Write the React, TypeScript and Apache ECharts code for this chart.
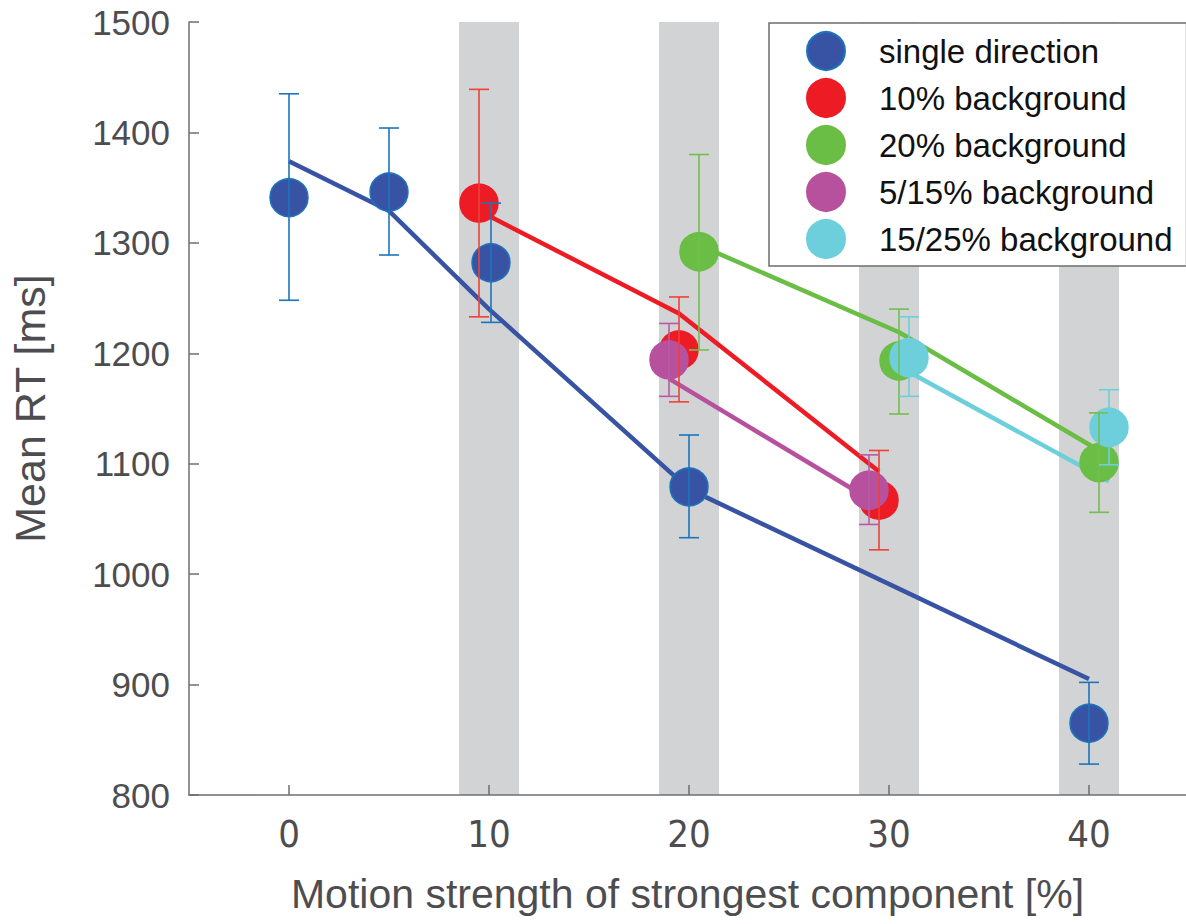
import React, { useEffect, useRef } from "react";
import * as echarts from "echarts";

// ---- data ----
const xTicks = [0, 10, 20, 30, 40];
const yTicks = [800, 900, 1000, 1100, 1200, 1300, 1400, 1500];
const bandCenters = [10, 20, 30, 40];

const seriesNames = [
  "single direction",
  "10% background",
  "20% background",
  "5/15% background",
  "15/25% background",
];

// single direction
const singleX = [0, 5, 10.1, 20, 40];
const singleY = [1341, 1346, 1282, 1079, 865];
const singleLo = [1248, 1289, 1228, 1033, 828];
const singleHi = [1435, 1404, 1336, 1126, 902];
const singleFitX = [0, 5, 10, 20, 40];
const singleFitY = [1374, 1329, 1240, 1077, 905];

// 10% background
const bg10X = [9.5, 19.5, 29.5];
const bg10Y = [1336, 1203, 1067];
const bg10Lo = [1233, 1156, 1022];
const bg10Hi = [1439, 1251, 1112];
const bg10FitX = [9.5, 19.5, 29.5];
const bg10FitY = [1329, 1236, 1093];

// 20% background
const bg20X = [20.5, 30.5, 40.5];
const bg20Y = [1292, 1193, 1101];
const bg20Lo = [1203, 1145, 1056];
const bg20Hi = [1380, 1240, 1146];
const bg20FitX = [20.5, 30.5, 40.5];
const bg20FitY = [1298, 1219, 1112];

// 5/15% background
const bg515X = [19, 29];
const bg515Y = [1194, 1076];
const bg515Lo = [1161, 1045];
const bg515Hi = [1227, 1108];
const bg515FitX = [19, 29];
const bg515FitY = [1177, 1068];

// 15/25% background
const bg1525X = [31, 41];
const bg1525Y = [1196, 1133];
const bg1525Lo = [1161, 1099];
const bg1525Hi = [1233, 1167];
const bg1525FitX = [31, 41];
const bg1525FitY = [1183, 1084];

const groups = [
  { x: singleX, y: singleY, lo: singleLo, hi: singleHi, fx: singleFitX, fy: singleFitY, fill: "#3953a4", edge: "#1c75bc", err: "#1c75bc" },
  { x: bg10X, y: bg10Y, lo: bg10Lo, hi: bg10Hi, fx: bg10FitX, fy: bg10FitY, fill: "#ed1c24", edge: "#ed1c24", err: "#ef4136" },
  { x: bg20X, y: bg20Y, lo: bg20Lo, hi: bg20Hi, fx: bg20FitX, fy: bg20FitY, fill: "#6abd45", edge: "#6abd45", err: "#72bf4f" },
  { x: bg515X, y: bg515Y, lo: bg515Lo, hi: bg515Hi, fx: bg515FitX, fy: bg515FitY, fill: "#b7519e", edge: "#b7519e", err: "#b95aa4" },
  { x: bg1525X, y: bg1525Y, lo: bg1525Lo, hi: bg1525Hi, fx: bg1525FitX, fy: bg1525FitY, fill: "#6dcfdc", edge: "#6dcfdc", err: "#6dcfdc" },
];

const AXIS_COLOR = "#6d6e71";
const TEXT_COLOR = "#4d4d4f";
const FONT = "'Liberation Sans', Arial, sans-serif";
const NARROW = "'Liberation Sans Narrow', 'DejaVu Sans Condensed', 'Liberation Sans', sans-serif";

export default function App() {
  const ref = useRef<HTMLDivElement>(null);

  useEffect(() => {
    if (!ref.current) return;
    const chart = echarts.init(ref.current, null, { renderer: "svg" });

    const series: any[] = [];

    // grey bands
    series.push({
      type: "custom",
      name: "bands",
      z: 0,
      silent: true,
      data: bandCenters.map((c) => [c - 1.5, c + 1.5]),
      renderItem: (params: any, api: any) => {
        const a = api.coord([api.value(0), 1500]);
        const b = api.coord([api.value(1), 800]);
        return {
          type: "rect",
          shape: { x: a[0], y: a[1], width: b[0] - a[0], height: b[1] - a[1] },
          style: { fill: "#d1d3d4" },
        };
      },
    });

    groups.forEach((g, i) => {
      const name = seriesNames[i];
      // fit line
      series.push({
        type: "line",
        name: name + " fit",
        z: 2,
        showSymbol: false,
        symbol: "none",
        silent: true,
        data: g.fx.map((x, k) => [x, g.fy[k]]),
        lineStyle: { color: g.fill, width: 4.5 },
      });
      // points
      series.push({
        type: "scatter",
        name,
        z: 3,
        symbol: "circle",
        symbolSize: 38,
        data: g.x.map((x, k) => [x, g.y[k]]),
        itemStyle: { color: g.fill, borderColor: g.edge, borderWidth: 1.5, opacity: 1 },
      });
      // error bars
      series.push({
        type: "custom",
        name: name + " error",
        z: 4,
        silent: true,
        data: g.x.map((x, k) => [x, g.lo[k], g.hi[k]]),
        renderItem: (params: any, api: any) => {
          const x = api.value(0);
          const top = api.coord([x, api.value(2)]);
          const bot = api.coord([x, api.value(1)]);
          const hw = 10;
          const st = { stroke: g.err, lineWidth: 1.6 };
          return {
            type: "group",
            children: [
              { type: "line", shape: { x1: top[0], y1: top[1], x2: bot[0], y2: bot[1] }, style: st },
              { type: "line", shape: { x1: top[0] - hw, y1: top[1], x2: top[0] + hw, y2: top[1] }, style: st },
              { type: "line", shape: { x1: bot[0] - hw, y1: bot[1], x2: bot[0] + hw, y2: bot[1] }, style: st },
            ],
          };
        },
      });
    });

    chart.setOption({
      animation: false,
      backgroundColor: "#ffffff",
      grid: { left: 188, right: 0, top: 22, bottom: 129, containLabel: false },
      legend: {
        data: seriesNames,
        orient: "vertical",
        left: 769,
        top: 23,
        padding: [8, 14, 7, 37],
        itemWidth: 38,
        itemHeight: 38,
        itemGap: 7,
        icon: "circle",
        backgroundColor: "#ffffff",
        borderColor: "#6d6e71",
        borderWidth: 1.5,
        borderRadius: 0,
        z: 10,
        textStyle: {
          fontSize: 33,
          color: "#111111",
          fontFamily: FONT,
          padding: [0, 0, 0, 29],
        },
      },
      xAxis: {
        type: "value",
        min: -5,
        max: 44.85,
        name: "Motion strength of strongest component [%]",
        nameLocation: "middle",
        nameGap: 78,
        nameTextStyle: { fontSize: 41, color: TEXT_COLOR, fontFamily: FONT },
        splitLine: { show: false },
        axisLine: { show: true, onZero: false, lineStyle: { color: AXIS_COLOR, width: 1.5 } },
        axisTick: { show: true, inside: true, length: 10, customValues: xTicks, lineStyle: { color: AXIS_COLOR, width: 1.5 } },
        axisLabel: { customValues: xTicks, fontSize: 38, color: TEXT_COLOR, fontFamily: NARROW, margin: 20 },
      },
      yAxis: {
        type: "value",
        min: 800,
        max: 1500,
        interval: 100,
        name: "Mean RT [ms]",
        nameLocation: "middle",
        nameRotate: 90,
        nameGap: 138,
        nameTextStyle: { fontSize: 43, color: TEXT_COLOR, fontFamily: FONT },
        splitLine: { show: false },
        axisLine: { show: true, onZero: false, lineStyle: { color: AXIS_COLOR, width: 1.5 } },
        axisTick: { show: true, inside: true, length: 10, customValues: yTicks, lineStyle: { color: AXIS_COLOR, width: 1.5 } },
        axisLabel: {
          customValues: yTicks,
          fontSize: 35,
          color: TEXT_COLOR,
          fontFamily: FONT,
          margin: 19,
          formatter: (v: number) => String(v),
        },
      },
      series,
    });

    return () => chart.dispose();
  }, []);

  return (
    <div
      ref={ref}
      style={{ position: "absolute", left: 0, top: 0, width: 1186, height: 924 }}
    />
  );
}
